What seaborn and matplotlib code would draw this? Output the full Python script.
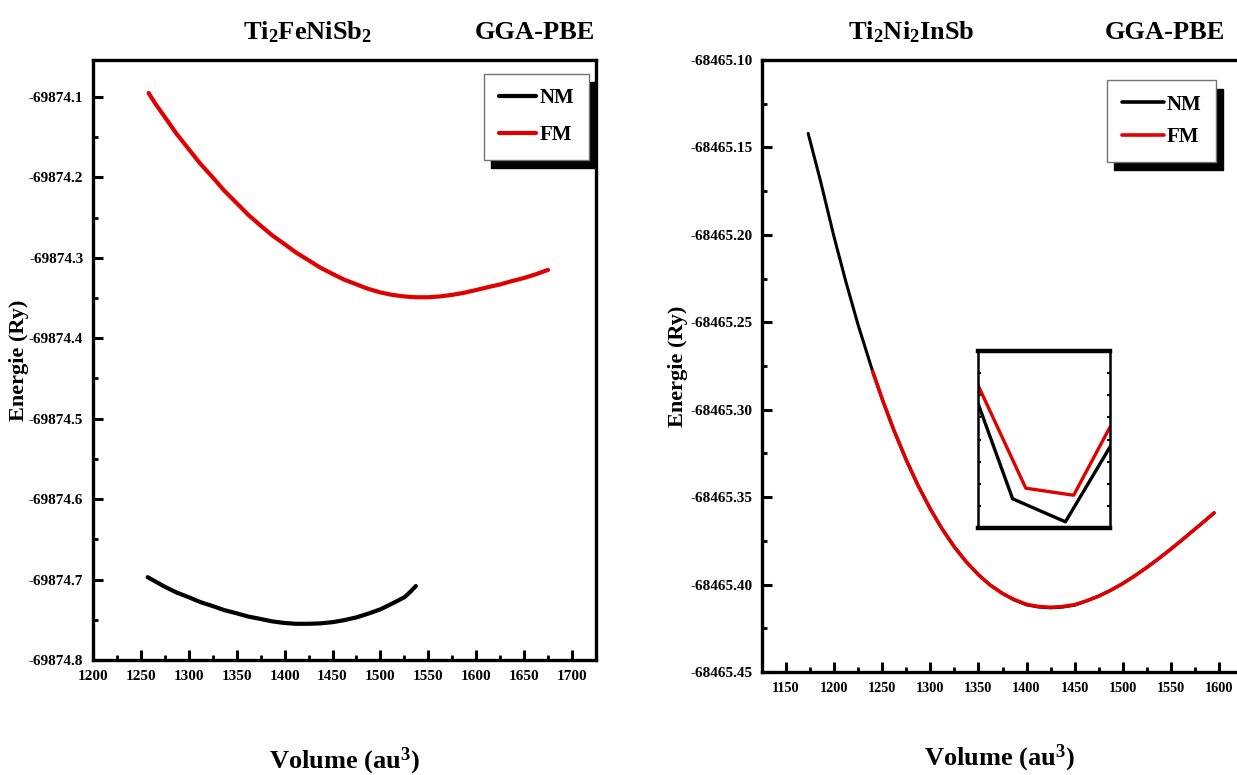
import matplotlib
matplotlib.use("Agg")
import matplotlib.pyplot as plt
import seaborn as sns
import pandas as pd
from matplotlib.ticker import MultipleLocator, FixedLocator, FormatStrFormatter
from matplotlib.lines import Line2D

# ---- Ti2FeNiSb2 : total energy vs. volume (GGA-PBE) ----
fe_vol_fm = [1258, 1266, 1275, 1287, 1300, 1312, 1325, 1337, 1350, 1362,
             1375, 1387, 1400, 1412, 1425, 1437, 1450, 1462, 1475, 1487,
             1500, 1512, 1525, 1537, 1550, 1562, 1575, 1587, 1600, 1612,
             1625, 1637, 1650, 1662, 1675]
fe_e_fm = [-69874.095, -69874.110, -69874.125, -69874.1455, -69874.165,
           -69874.183, -69874.200, -69874.2165, -69874.232, -69874.2465,
           -69874.260, -69874.272, -69874.283, -69874.2935, -69874.303,
           -69874.312, -69874.320, -69874.327, -69874.333, -69874.3385,
           -69874.343, -69874.346, -69874.348, -69874.349, -69874.349,
           -69874.348, -69874.346, -69874.3435, -69874.340, -69874.3365,
           -69874.333, -69874.329, -69874.325, -69874.3205, -69874.315]
fe_vol_nm = [1257, 1266, 1275, 1287, 1300, 1312, 1325, 1337, 1350, 1362,
             1375, 1387, 1400, 1412, 1425, 1437, 1450, 1462, 1475, 1487,
             1500, 1512, 1525, 1531, 1537]
fe_e_nm = [-69874.697, -69874.703, -69874.709, -69874.716, -69874.722,
           -69874.728, -69874.733, -69874.738, -69874.742, -69874.746,
           -69874.749, -69874.752, -69874.754, -69874.755, -69874.755,
           -69874.7545, -69874.753, -69874.7505, -69874.747, -69874.7425,
           -69874.737, -69874.730, -69874.722, -69874.7155, -69874.708]

# ---- Ti2Ni2InSb : total energy vs. volume (GGA-PBE) ----
in_vol_nm = [1173, 1186, 1200, 1212, 1225, 1240, 1250, 1262, 1275, 1287,
             1300, 1312, 1325, 1337, 1350, 1362, 1375, 1387, 1400, 1412,
             1425, 1437, 1450, 1462, 1475, 1487, 1500, 1512, 1525, 1537,
             1550, 1562, 1575, 1585, 1595]
in_e_nm = [-68465.142, -68465.1696, -68465.2014, -68465.2264, -68465.2517,
           -68465.278, -68465.294, -68465.3116, -68465.3288, -68465.3431,
           -68465.3568, -68465.3680, -68465.3785, -68465.3868, -68465.3944,
           -68465.4002, -68465.4051, -68465.4088, -68465.4116, -68465.4128,
           -68465.4133, -68465.4129, -68465.4118, -68465.4094, -68465.4066,
           -68465.4034, -68465.3994, -68465.3952, -68465.3902, -68465.3853,
           -68465.3797, -68465.3743, -68465.3683, -68465.3637, -68465.359]
in_vol_fm = [1240, 1250, 1262, 1275, 1287, 1300, 1312, 1325, 1337, 1350,
             1362, 1375, 1387, 1400, 1412, 1425, 1437, 1450, 1462, 1475,
             1487, 1500, 1512, 1525, 1537, 1550, 1562, 1575, 1585, 1595]
in_e_fm = [-68465.278, -68465.294, -68465.3116, -68465.3288, -68465.3431,
           -68465.3568, -68465.3680, -68465.3785, -68465.3868, -68465.3944,
           -68465.4002, -68465.4051, -68465.4085, -68465.4113, -68465.4125,
           -68465.4130, -68465.4126, -68465.4115, -68465.4094, -68465.4066,
           -68465.4034, -68465.3994, -68465.3952, -68465.3902, -68465.3853,
           -68465.3797, -68465.3743, -68465.3683, -68465.3637, -68465.359]
in_vol_ticks = [1150, 1200, 1250, 1300, 1350, 1400, 1450, 1500, 1550, 1600]

# zoom around the minimum of Ti2Ni2InSb
zoom_vol_nm = [1390, 1411, 1443, 1470]
zoom_e_nm = [-68465.41218, -68465.41434, -68465.41486, -68465.41317]
zoom_vol_fm = [1390, 1419, 1448, 1470]
zoom_e_fm = [-68465.41177, -68465.41410, -68465.41426, -68465.41272]

sns.set_theme(style="ticks")
plt.rcParams["font.family"] = ["Liberation Serif", "DejaVu Serif"]
plt.rcParams["font.weight"] = "bold"
plt.rcParams["mathtext.fontset"] = "custom"
plt.rcParams["mathtext.rm"] = "Liberation Serif:bold"
plt.rcParams["mathtext.default"] = "regular"
plt.rcParams["axes.linewidth"] = 2.4
plt.rcParams["axes.edgecolor"] = "black"
plt.rcParams["text.color"] = "black"
plt.rcParams["axes.labelcolor"] = "black"
plt.rcParams["xtick.color"] = "black"
plt.rcParams["ytick.color"] = "black"

PALETTE = {"NM": "black", "FM": "#e00000"}


def frame(vol_nm, e_nm, vol_fm, e_fm):
    return pd.concat([
        pd.DataFrame({"Volume": vol_nm, "Energy": e_nm, "Phase": "NM"}),
        pd.DataFrame({"Volume": vol_fm, "Energy": e_fm, "Phase": "FM"}),
    ], ignore_index=True)


def style_axis(ax, xmajor, ymajor, yfmt):
    ax.xaxis.set_major_locator(MultipleLocator(xmajor))
    ax.xaxis.set_minor_locator(MultipleLocator(xmajor / 2))
    ax.yaxis.set_major_locator(MultipleLocator(ymajor))
    ax.yaxis.set_minor_locator(MultipleLocator(ymajor / 2))
    ax.yaxis.set_major_formatter(FormatStrFormatter(yfmt))
    ax.tick_params(which="major", direction="in", length=7, width=2.2,
                   labelsize=11, pad=7)
    ax.tick_params(which="minor", direction="in", length=3.5, width=2)
    for lab in ax.get_xticklabels() + ax.get_yticklabels():
        lab.set_fontweight("bold")


def add_legend(ax, anchor, lw, labelspacing, handlelength):
    handles = [Line2D([], [], color=PALETTE["NM"], lw=lw),
               Line2D([], [], color=PALETTE["FM"], lw=lw)]
    leg = ax.legend(handles, ["NM", "FM"], loc="upper right",
                    bbox_to_anchor=anchor, borderaxespad=0,
                    frameon=True, fancybox=False,
                    shadow={"color": "black", "alpha": 1, "ox": 5, "oy": -6},
                    edgecolor="0.45", framealpha=1,
                    handlelength=handlelength, handletextpad=0.15,
                    borderpad=0.7, labelspacing=labelspacing,
                    prop={"weight": "bold", "size": 15})
    leg.get_frame().set_linewidth(1.0)
    return leg


fig = plt.figure(figsize=(12.37, 7.75), dpi=100)

# ---------------- left panel ----------------
ax1 = fig.add_axes([0.0752, 0.1484, 0.4066, 0.7742])
df1 = frame(fe_vol_nm, fe_e_nm, fe_vol_fm, fe_e_fm)
sns.lineplot(data=df1, x="Volume", y="Energy", hue="Phase", palette=PALETTE,
             hue_order=["NM", "FM"], estimator=None, sort=False,
             linewidth=3.0, legend=False, ax=ax1)
ax1.set_xlim(1200, 1725)
ax1.set_ylim(-69874.8, -69874.054)
style_axis(ax1, 50, 0.1, "%.1f")
ax1.set_xlabel("Volume (au$^3$)", fontsize=19, fontweight="bold")
ax1.set_ylabel("Energie (Ry)", fontsize=16, fontweight="bold")
ax1.xaxis.set_label_coords(0.5, -0.142)
ax1.yaxis.set_label_coords(-0.127, 0.5)
add_legend(ax1, (0.986, 0.977), 3.0, 0.8, 1.8)
fig.text(0.249, 0.958, "Ti$_2$FeNiSb$_2$", fontsize=19, fontweight="bold",
         ha="center", va="center")
fig.text(0.432, 0.958, "GGA-PBE", fontsize=19, fontweight="bold",
         ha="center", va="center")

# ---------------- right panel ----------------
ax2 = fig.add_axes([0.616, 0.1329, 0.4083, 0.7897])
df2 = frame(in_vol_nm, in_e_nm, in_vol_fm, in_e_fm)
sns.lineplot(data=df2, x="Volume", y="Energy", hue="Phase", palette=PALETTE,
             hue_order=["NM", "FM"], estimator=None, sort=False,
             linewidth=2.2, legend=False, ax=ax2)
ax2.lines[1].set_linewidth(2.6)
ax2.set_xlim(1125, 1650)
ax2.set_ylim(-68465.45, -68465.10)
style_axis(ax2, 50, 0.05, "%.2f")
ax2.xaxis.set_major_locator(FixedLocator(in_vol_ticks))
ax2.tick_params(axis="x", labelsize=10.3)
for lab in ax2.get_xticklabels():
    lab.set_fontweight("bold")
ax2.set_xlabel("Volume (au$^3$)", fontsize=19, fontweight="bold")
ax2.set_ylabel("Energie (Ry)", fontsize=16, fontweight="bold")
ax2.xaxis.set_label_coords(0.47, -0.116)
ax2.yaxis.set_label_coords(-0.147, 0.5)
add_legend(ax2, (0.899, 0.967), 2.6, 0.6, 2.0)
fig.text(0.737, 0.958, "Ti$_2$Ni$_2$InSb", fontsize=19, fontweight="bold",
         ha="center", va="center")
fig.text(0.942, 0.958, "GGA-PBE", fontsize=19, fontweight="bold",
         ha="center", va="center")

# inset: enlarged view of the energy minimum
axi = fig.add_axes([0.7906, 0.3187, 0.1067, 0.2284])
dfi = frame(zoom_vol_nm, zoom_e_nm, zoom_vol_fm, zoom_e_fm)
sns.lineplot(data=dfi, x="Volume", y="Energy", hue="Phase", palette=PALETTE,
             hue_order=["NM", "FM"], estimator=None, sort=False,
             linewidth=2.4, legend=False, ax=axi)
axi.set_xlim(1390, 1470)
axi.set_ylim(-68465.4150, -68465.4110)
axi.set_xlabel("")
axi.set_ylabel("")
axi.set_xticks([])
axi.yaxis.set_major_locator(MultipleLocator(0.0005))
axi.tick_params(axis="y", direction="in", length=2.5, width=1.5,
                left=True, right=True, labelleft=False)
for side in ("top", "bottom"):
    axi.spines[side].set_linewidth(3.2)
for side in ("left", "right"):
    axi.spines[side].set_linewidth(1.8)

fig.savefig("out.png", dpi=100)
